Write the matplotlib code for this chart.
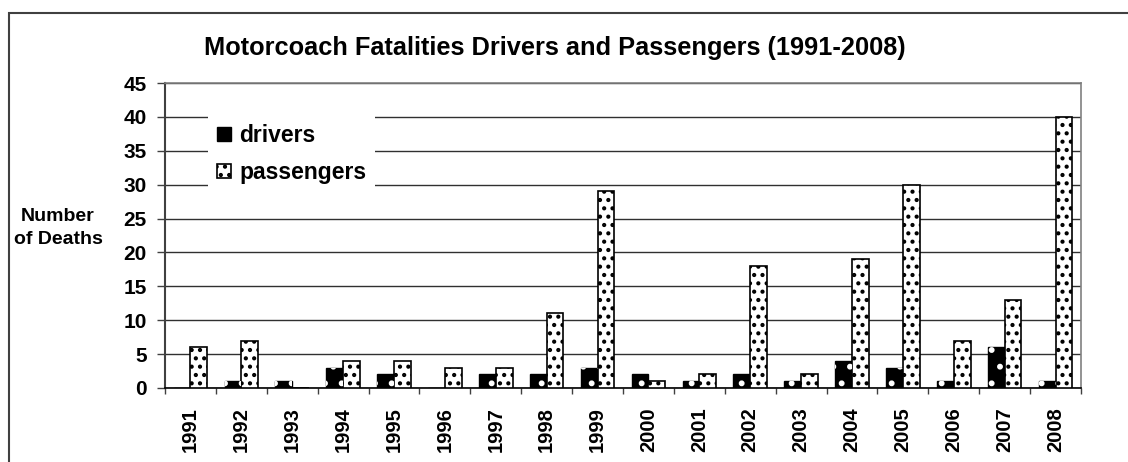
import numpy as np
import matplotlib.pyplot as plt
from matplotlib.patches import Rectangle

years = [str(y) for y in range(1991, 2009)]
drivers = [0, 1, 1, 3, 2, 0, 2, 2, 3, 2, 1, 2, 1, 4, 3, 1, 6, 1]
passengers = [6, 7, 0, 4, 4, 3, 3, 11, 29, 1, 2, 18, 2, 19, 30, 7, 13, 40]

plt.rcParams['font.family'] = ['Liberation Sans', 'DejaVu Sans']
plt.rcParams['font.weight'] = 'bold'
plt.rcParams['hatch.linewidth'] = 1.8

fig = plt.figure(figsize=(11.28, 4.62), dpi=100)
ax = fig.add_axes([0.1463, 0.1602, 0.812, 0.660])

# outer frame of the original chart (top and left edges only visible)
fig.patches.append(Rectangle((8.5 / 1128, -0.1), 1.2, (462 - 13) / 462 + 0.1,
                             transform=fig.transFigure, fill=False,
                             edgecolor='#404040', linewidth=1.5, zorder=0))

x = np.arange(len(years))
w = 0.33

ax.bar(x - w / 2, drivers, w, color='black', edgecolor='black', linewidth=1.0,
       zorder=3, label='drivers')
ax.bar(x - w / 2, drivers, w, facecolor='none', edgecolor='white', linewidth=0,
       hatch='.', zorder=4)
ax.bar(x + w / 2, passengers, w, facecolor='white', edgecolor='black', linewidth=1.2,
       hatch='..', zorder=3, label='passengers')

ax.set_xlim(-0.5, len(years) - 0.5)
ax.set_ylim(0, 45)
ax.set_yticks(range(0, 50, 5))
ax.yaxis.grid(True, color='#303030', linewidth=1.0, zorder=0)
ax.set_axisbelow(True)

ax.set_xticks(x)
ax.set_xticklabels(years, rotation=90, fontsize=14.5, fontweight='bold')
ax.set_xticks(np.arange(-0.5, len(years)), minor=True)
ax.tick_params(axis='x', which='major', length=0, pad=14)
ax.tick_params(axis='x', which='minor', length=4.5, color='#404040', width=1)
ax.tick_params(axis='y', length=6, color='#404040', width=1, labelsize=15, pad=7)
for lab in ax.get_yticklabels():
    lab.set_fontweight('bold')

for side in ['top', 'right']:
    ax.spines[side].set_color('#808080')
    ax.spines[side].set_linewidth(1.2)
ax.spines['left'].set_color('#404040')
ax.spines['left'].set_linewidth(1.5)
ax.spines['bottom'].set_color('black')
ax.spines['bottom'].set_linewidth(1.2)

ax.set_title('Motorcoach Fatalities Drivers and Passengers (1991-2008)',
             fontsize=18.3, fontweight='bold', pad=20, x=(555 - 165) / 916)

fig.text(58 / 1128, 1 - 228 / 462, 'Number\nof Deaths', ha='center', va='center',
         fontsize=14, fontweight='bold', linespacing=1.45)

leg = ax.legend(loc='upper left', bbox_to_anchor=(0.047, 0.895), frameon=True,
                fancybox=False, edgecolor='none', facecolor='white', framealpha=1,
                fontsize=16.5, handlelength=0.6, handleheight=0.6, handletextpad=0.35,
                labelspacing=0.6, borderpad=0.4, borderaxespad=0)
leg.set_zorder(5)
for t in leg.get_texts():
    t.set_fontweight('bold')

fig.savefig('out.png', dpi=100)
